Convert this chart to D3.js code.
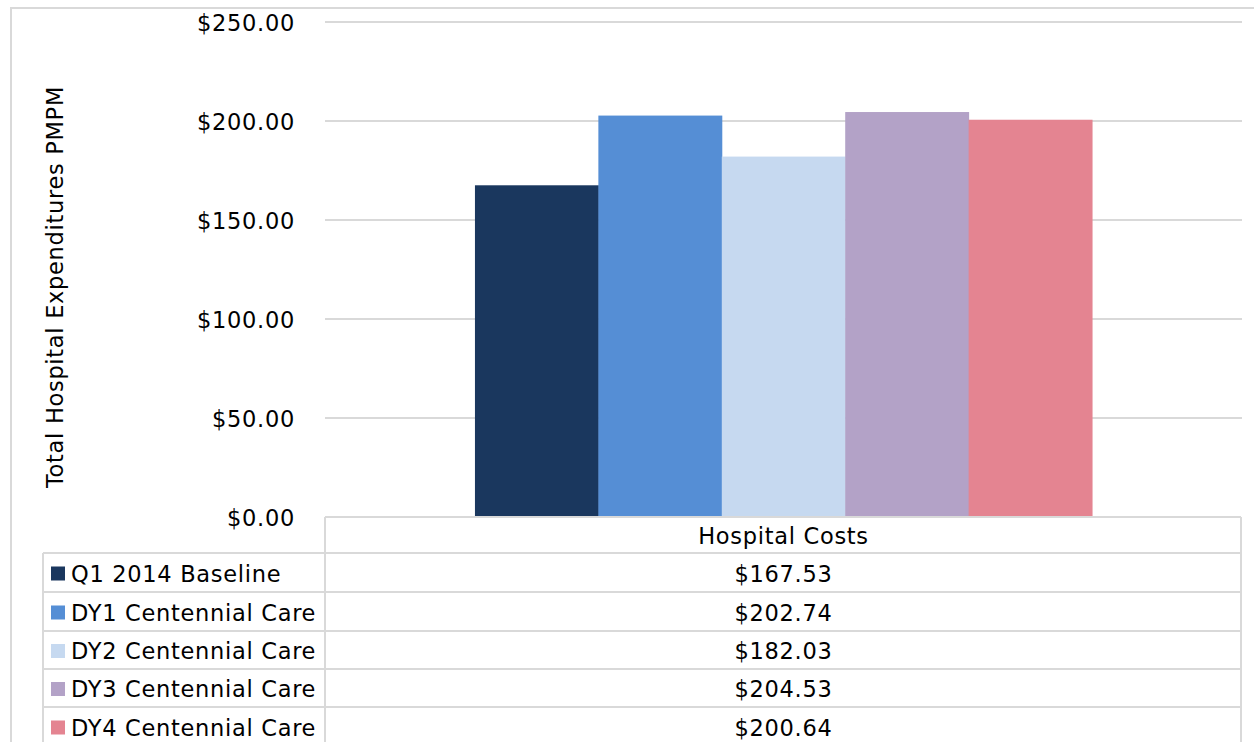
<!DOCTYPE html>
<html>
<head>
<meta charset="utf-8">
<script src="https://cdn.jsdelivr.net/npm/d3@7/dist/d3.min.js"></script>
<style>
  html, body { margin: 0; padding: 0; background: #fff; }
  svg { display: block; }
  text { font-family: "DejaVu Sans", Verdana, sans-serif; fill: #000; letter-spacing: 0.7px; }
</style>
</head>
<body>
<svg id="chart" width="1254" height="742"></svg>
<script>
const categories = ["Hospital Costs"];
const seriesNames = ["Q1 2014 Baseline", "DY1 Centennial Care", "DY2 Centennial Care", "DY3 Centennial Care", "DY4 Centennial Care"];
const seriesValues = [167.53, 202.74, 182.03, 204.53, 200.64];
const seriesColors = ["#1a375e", "#558ed5", "#c6d9f0", "#b3a2c7", "#e48491"];
const yTicks = [0, 50, 100, 150, 200, 250];
const yTitle = "Total Hospital Expenditures PMPM";

const svg = d3.select("#chart");
const W = 1254, H = 742;
const plotL = 325, plotR = 1242, plotT = 22, plotB = 517;
const grid = "#d9d9d9";
const fs = 22.5;

// outer border
svg.append("rect").attr("x", 11).attr("y", 8).attr("width", W + 20).attr("height", H + 20)
  .attr("fill", "none").attr("stroke", grid).attr("stroke-width", 2);

const y = d3.scaleLinear().domain([0, 250]).range([plotB, plotT]);
const x = d3.scaleBand().domain(categories).range([plotL, plotR]).paddingInner(0).paddingOuter(0.243);
const xs = d3.scaleBand().domain(seriesNames).range([0, x.bandwidth()]).padding(0);

// gridlines
svg.append("g").selectAll("line").data(yTicks.filter(d => d > 0)).join("line")
  .attr("x1", plotL).attr("x2", plotR)
  .attr("y1", d => y(d)).attr("y2", d => y(d))
  .attr("stroke", grid).attr("stroke-width", 2);

// y axis labels
const fmt = d3.format("$,.2f");
const yAxis = d3.axisLeft(y).tickValues(yTicks).tickFormat(fmt).tickSize(0).tickPadding(0);
const yg = svg.append("g").attr("transform", `translate(${295},0)`).call(yAxis);
yg.select(".domain").remove();
yg.selectAll("text").attr("font-size", fs).attr("font-family", "DejaVu Sans, Verdana, sans-serif")
  .attr("fill", "#000").attr("dy", "0.36em");

// y title
svg.append("text")
  .attr("transform", `translate(63,287) rotate(-90)`)
  .attr("text-anchor", "middle")
  .attr("font-size", fs)
  .text(yTitle);

// bars
const cat = categories[0];
svg.append("g").selectAll("rect").data(seriesNames.map((s, i) => ({ s, v: seriesValues[i], c: seriesColors[i] })))
  .join("rect")
  .attr("x", d => x(cat) + xs(d.s))
  .attr("y", d => y(d.v))
  .attr("width", xs.bandwidth() + 0.5)
  .attr("height", d => y(0) - y(d.v))
  .attr("fill", d => d.c);

// data table
const tblL = 43;
const rowTops = [517, 553, 592, 631, 669, 707, 746];
const tg = svg.append("g");
tg.append("line").attr("x1", plotL).attr("x2", plotR - 1).attr("y1", rowTops[0]).attr("y2", rowTops[0]).attr("stroke", grid).attr("stroke-width", 2);
for (let i = 1; i < rowTops.length; i++) {
  tg.append("line").attr("x1", tblL).attr("x2", plotR - 1).attr("y1", rowTops[i]).attr("y2", rowTops[i]).attr("stroke", grid).attr("stroke-width", 2);
}
tg.append("line").attr("x1", tblL).attr("x2", tblL).attr("y1", rowTops[1]).attr("y2", H + 10).attr("stroke", grid).attr("stroke-width", 2);
tg.append("line").attr("x1", plotL).attr("x2", plotL).attr("y1", rowTops[0]).attr("y2", H + 10).attr("stroke", grid).attr("stroke-width", 2);
tg.append("line").attr("x1", plotR - 1).attr("x2", plotR - 1).attr("y1", rowTops[0]).attr("y2", H + 10).attr("stroke", grid).attr("stroke-width", 2);

// header text
svg.append("text")
  .attr("x", x(cat) + x.bandwidth() / 2)
  .attr("y", (rowTops[0] + rowTops[1]) / 2 + 1)
  .attr("text-anchor", "middle").attr("dominant-baseline", "central")
  .attr("font-size", fs).text(cat);

// legend rows + values
seriesNames.forEach((s, i) => {
  const cy = (rowTops[i + 1] + rowTops[i + 2]) / 2 + 1;
  svg.append("rect").attr("x", 51).attr("y", cy - 7).attr("width", 14).attr("height", 14).attr("fill", seriesColors[i]);
  svg.append("text").attr("x", 71).attr("y", cy).attr("dominant-baseline", "central")
    .attr("font-size", fs).text(s);
  svg.append("text").attr("x", x(cat) + x.bandwidth() / 2).attr("y", cy)
    .attr("text-anchor", "middle").attr("dominant-baseline", "central")
    .attr("font-size", fs).text(fmt(seriesValues[i]));
});
</script>
</body>
</html>
